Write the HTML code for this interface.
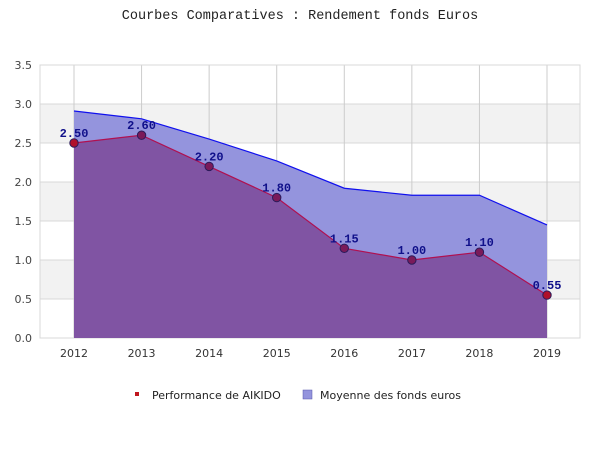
<!DOCTYPE html>
<html><head><meta charset="utf-8"><style>
body{margin:0;background:#fff;width:600px;height:450px;overflow:hidden}
svg text{font-family:"DejaVu Sans","Liberation Sans",sans-serif}
</style></head><body>
<svg id="c" width="600" height="450">
<text x="300" y="19" text-anchor="middle" font-family="Liberation Mono, monospace" font-size="13.5" fill="#222" style="font-family:'Liberation Mono',monospace">Courbes Comparatives : Rendement fonds Euros</text>
<g id="grid"></g><g id="marks"></g><g id="axes"></g>
<g>
<g><rect x="135" y="392" width="4" height="4" fill="#c0161e"/><text x="152" y="399" font-size="11" fill="#222">Performance de AIKIDO</text></g>
<g><rect x="303" y="390" width="9" height="9" fill="#9494dd" stroke="#5555aa" stroke-width="0.5"/><text x="320" y="399" font-size="11" fill="#222">Moyenne des fonds euros</text></g>
</g>
</svg>
<script>
const years=["2012","2013","2014","2015","2016","2017","2018","2019"];
const aikido=[2.50,2.60,2.20,1.80,1.15,1.00,1.10,0.55];
const moyenne=[2.91,2.81,2.55,2.27,1.92,1.83,1.83,1.45];
const yTicks=[0,0.5,1,1.5,2,2.5,3,3.5];
const L=40,R=580,T=65,B=338,ymax=3.5;
const x=i=>74+i*(547-74)/(years.length-1);
const y=v=>B-(v/ymax)*(B-T);
const NS="http://www.w3.org/2000/svg";
function mk(p,t,a){const e=document.createElementNS(NS,t);for(const k in a)e.setAttribute(k,a[k]);p.appendChild(e);return e;}
const g=document.getElementById('grid'),m=document.getElementById('marks'),ax=document.getElementById('axes');
mk(g,'rect',{x:L,y:T,width:R-L,height:B-T,fill:'#fff'});
for(let i=0;i<yTicks.length-1;i++){if(i%2==1){const r=mk(g,'rect',{x:L,y:y(yTicks[i+1]),width:R-L,height:y(yTicks[i])-y(yTicks[i+1]),fill:'#f2f2f2'});

}}
yTicks.forEach(v=>{mk(g,'line',{x1:L,x2:R,y1:y(v),y2:y(v),stroke:'#d8d8d8'});
const t=mk(ax,'text',{x:L-8,y:y(v)+4,'text-anchor':'end','font-size':11,fill:'#444'});t.textContent=v.toFixed(1);

});
years.forEach((yr,i)=>{mk(g,'line',{x1:x(i),x2:x(i),y1:T,y2:B,stroke:'#cccccc'});
const t=mk(ax,'text',{x:x(i),y:B+19,'text-anchor':'middle','font-size':11,fill:'#333'});t.textContent=yr;

});
mk(g,'rect',{x:L,y:T,width:R-L,height:B-T,fill:'none',stroke:'#d8d8d8'});
function area(vals,fill,stroke,name,op){let d=`M${x(0)},${B}`;vals.forEach((v,i)=>d+=` L${x(i)},${y(v)}`);d+=` L${x(vals.length-1)},${B}Z`;
const a=mk(m,'path',{d,fill,'fill-opacity':op});
let l='';vals.forEach((v,i)=>l+=(i?' L':'M')+x(i)+','+y(v));const p=mk(m,'path',{d:l,fill:'none',stroke,'stroke-width':1.2});
}
area(moyenne,'#9494dd','#1010ee','moyenne',1);
area(aikido,'#7a3f8f','#b01050','aikido',0.75);
aikido.forEach((v,i)=>{const c=mk(m,'circle',{cx:x(i),cy:y(v),r:4.2,fill:i==0||i==7?'#b0102a':'#7a1a5a',stroke:'#2a1a5a','stroke-width':1});


const t=mk(m,'text',{x:x(i),y:y(v)-6,'text-anchor':'middle','font-size':12,'font-weight':'bold',fill:'#10108a',style:"font-family:'Liberation Mono',monospace"});t.textContent=v.toFixed(2);

});
</script>
</body></html>
